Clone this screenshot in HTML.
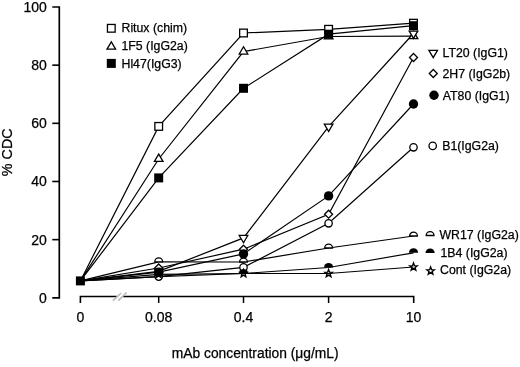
<!DOCTYPE html>
<html><head><meta charset="utf-8"><style>
html,body{margin:0;padding:0;background:#fff;}
body{width:520px;height:367px;overflow:hidden;font-family:"Liberation Sans",sans-serif;}
svg{display:block;filter:grayscale(1);}
</style></head><body>
<svg width="520" height="367" viewBox="0 0 520 367">
<rect width="520" height="367" fill="#fff"/>
<path d="M52.3,7 H59.3 V297.8 H52.3" fill="none" stroke="#000" stroke-width="1.7"/>
<line x1="52.3" y1="239.64" x2="59.3" y2="239.64" stroke="#000" stroke-width="1.6"/>
<line x1="52.3" y1="181.48" x2="59.3" y2="181.48" stroke="#000" stroke-width="1.6"/>
<line x1="52.3" y1="123.32" x2="59.3" y2="123.32" stroke="#000" stroke-width="1.6"/>
<line x1="52.3" y1="65.16" x2="59.3" y2="65.16" stroke="#000" stroke-width="1.6"/>
<path d="M80.4,303 V296.5 H116.8 M122.9,296.5 H413.7 V303" fill="none" stroke="#000" stroke-width="1.6"/>
<line x1="158.7" y1="296.5" x2="158.7" y2="303" stroke="#000" stroke-width="1.5"/>
<line x1="243.5" y1="296.5" x2="243.5" y2="303" stroke="#000" stroke-width="1.5"/>
<line x1="328.6" y1="296.5" x2="328.6" y2="303" stroke="#000" stroke-width="1.5"/>
<line x1="113" y1="300.6" x2="121.2" y2="293" stroke="#b8b8b8" stroke-width="1.5"/>
<line x1="118.3" y1="300.6" x2="126.6" y2="292.5" stroke="#b8b8b8" stroke-width="1.5"/>
<polyline points="80.4,280.9 158.7,126.4 243.5,33.0 328.6,29.3 413.5,23.2" fill="none" stroke="#000" stroke-width="1.2"/>
<polyline points="80.4,280.9 158.7,159.0 243.5,51.6 328.6,36.5 413.5,36.2" fill="none" stroke="#000" stroke-width="1.2"/>
<polyline points="80.4,280.9 158.7,177.9 243.5,88.3 328.6,34.2 413.5,25.7" fill="none" stroke="#000" stroke-width="1.2"/>
<polyline points="80.4,280.9 158.7,271.4 243.5,237.9 328.6,126.6 413.5,33.5" fill="none" stroke="#000" stroke-width="1.2"/>
<polyline points="80.4,280.9 158.7,268.0 243.5,249.2 328.6,214.2 413.5,57.5" fill="none" stroke="#000" stroke-width="1.2"/>
<polyline points="80.4,280.9 158.7,272.1 243.5,253.9 328.6,195.9 413.5,104.0" fill="none" stroke="#000" stroke-width="1.2"/>
<polyline points="80.4,280.9 158.7,276.6 243.5,267.4 328.6,223.3 413.5,147.3" fill="none" stroke="#000" stroke-width="1.2"/>
<polyline points="80.4,280.9 158.7,261.8 243.5,262.0 328.6,248.0 413.5,236.0" fill="none" stroke="#000" stroke-width="1.2"/>
<polyline points="80.4,280.9 158.7,276.6 243.5,273.5 328.6,267.5 413.5,252.8" fill="none" stroke="#000" stroke-width="1.2"/>
<polyline points="80.4,280.9 158.7,274.3 243.5,273.5 328.6,273.5 413.5,267.0" fill="none" stroke="#000" stroke-width="1.2"/>
<rect x="154.85" y="122.55" width="7.7" height="7.7" fill="#fff" stroke="#000" stroke-width="1.3"/>
<rect x="239.65" y="29.15" width="7.7" height="7.7" fill="#fff" stroke="#000" stroke-width="1.3"/>
<rect x="324.75" y="25.45" width="7.7" height="7.7" fill="#fff" stroke="#000" stroke-width="1.3"/>
<rect x="409.65" y="19.35" width="7.7" height="7.7" fill="#fff" stroke="#000" stroke-width="1.3"/>
<polygon points="158.70,154.13 154.40,161.43 163.00,161.43" fill="#fff" stroke="#000" stroke-width="1.3" stroke-linejoin="miter"/>
<polygon points="243.50,46.73 239.20,54.03 247.80,54.03" fill="#fff" stroke="#000" stroke-width="1.3" stroke-linejoin="miter"/>
<polygon points="328.60,31.63 324.30,38.93 332.90,38.93" fill="#fff" stroke="#000" stroke-width="1.3" stroke-linejoin="miter"/>
<polygon points="413.50,31.33 409.20,38.63 417.80,38.63" fill="#fff" stroke="#000" stroke-width="1.3" stroke-linejoin="miter"/>
<rect x="154.20" y="173.40" width="9" height="9" fill="#000"/>
<rect x="239.00" y="83.80" width="9" height="9" fill="#000"/>
<rect x="324.10" y="29.70" width="9" height="9" fill="#000"/>
<rect x="409.00" y="21.20" width="9" height="9" fill="#000"/>
<polygon points="158.70,276.27 154.40,268.97 163.00,268.97" fill="#fff" stroke="#000" stroke-width="1.3"/>
<polygon points="243.50,242.77 239.20,235.47 247.80,235.47" fill="#fff" stroke="#000" stroke-width="1.3"/>
<polygon points="328.60,131.47 324.30,124.17 332.90,124.17" fill="#fff" stroke="#000" stroke-width="1.3"/>
<polygon points="413.50,38.37 409.20,31.07 417.80,31.07" fill="#fff" stroke="#000" stroke-width="1.3"/>
<polygon points="158.70,264.00 162.70,268.00 158.70,272.00 154.70,268.00" fill="#fff" stroke="#000" stroke-width="1.3"/>
<polygon points="243.50,245.20 247.50,249.20 243.50,253.20 239.50,249.20" fill="#fff" stroke="#000" stroke-width="1.3"/>
<polygon points="328.60,210.20 332.60,214.20 328.60,218.20 324.60,214.20" fill="#fff" stroke="#000" stroke-width="1.3"/>
<polygon points="413.50,53.50 417.50,57.50 413.50,61.50 409.50,57.50" fill="#fff" stroke="#000" stroke-width="1.3"/>
<circle cx="158.70" cy="272.10" r="4.7" fill="#000"/>
<circle cx="243.50" cy="253.90" r="4.7" fill="#000"/>
<circle cx="328.60" cy="195.90" r="4.7" fill="#000"/>
<circle cx="413.50" cy="104.00" r="4.7" fill="#000"/>
<circle cx="158.70" cy="276.60" r="3.7" fill="#fff" stroke="#000" stroke-width="1.3"/>
<circle cx="243.50" cy="267.40" r="3.7" fill="#fff" stroke="#000" stroke-width="1.3"/>
<circle cx="328.60" cy="223.30" r="3.7" fill="#fff" stroke="#000" stroke-width="1.3"/>
<circle cx="413.50" cy="147.30" r="3.7" fill="#fff" stroke="#000" stroke-width="1.3"/>
<path d="M154.80,261.80 A3.9,3.9 0 0 1 162.60,261.80 Z" fill="#fff" stroke="#000" stroke-width="1.3"/>
<path d="M239.60,262.00 A3.9,3.9 0 0 1 247.40,262.00 Z" fill="#fff" stroke="#000" stroke-width="1.3"/>
<path d="M324.70,248.00 A3.9,3.9 0 0 1 332.50,248.00 Z" fill="#fff" stroke="#000" stroke-width="1.3"/>
<path d="M409.60,236.00 A3.9,3.9 0 0 1 417.40,236.00 Z" fill="#fff" stroke="#000" stroke-width="1.3"/>
<path d="M154.10,276.60 A4.6,4.6 0 0 1 163.30,276.60 Z" fill="#000"/>
<path d="M238.90,273.50 A4.6,4.6 0 0 1 248.10,273.50 Z" fill="#000"/>
<path d="M324.00,267.50 A4.6,4.6 0 0 1 333.20,267.50 Z" fill="#000"/>
<path d="M408.90,252.80 A4.6,4.6 0 0 1 418.10,252.80 Z" fill="#000"/>
<polygon points="158.70,270.40 159.67,272.97 162.41,273.09 160.27,274.81 160.99,277.46 158.70,275.95 156.41,277.46 157.13,274.81 154.99,273.09 157.73,272.97" fill="none" stroke="#000" stroke-width="1.4" stroke-linejoin="miter"/>
<polygon points="243.50,269.60 244.47,272.17 247.21,272.29 245.07,274.01 245.79,276.66 243.50,275.15 241.21,276.66 241.93,274.01 239.79,272.29 242.53,272.17" fill="none" stroke="#000" stroke-width="1.4" stroke-linejoin="miter"/>
<polygon points="328.60,269.60 329.57,272.17 332.31,272.29 330.17,274.01 330.89,276.66 328.60,275.15 326.31,276.66 327.03,274.01 324.89,272.29 327.63,272.17" fill="none" stroke="#000" stroke-width="1.4" stroke-linejoin="miter"/>
<polygon points="413.50,263.10 414.47,265.67 417.21,265.79 415.07,267.51 415.79,270.16 413.50,268.65 411.21,270.16 411.93,267.51 409.79,265.79 412.53,265.67" fill="none" stroke="#000" stroke-width="1.4" stroke-linejoin="miter"/>
<rect x="75.90" y="276.40" width="9" height="9" fill="#000"/>
<text x="46.8" y="302.80" font-family="Liberation Sans" stroke="#000" stroke-width="0.25" font-size="14" text-anchor="end">0</text>
<text x="46.8" y="244.64" font-family="Liberation Sans" stroke="#000" stroke-width="0.25" font-size="14" text-anchor="end">20</text>
<text x="46.8" y="186.48" font-family="Liberation Sans" stroke="#000" stroke-width="0.25" font-size="14" text-anchor="end">40</text>
<text x="46.8" y="128.32" font-family="Liberation Sans" stroke="#000" stroke-width="0.25" font-size="14" text-anchor="end">60</text>
<text x="46.8" y="70.16" font-family="Liberation Sans" stroke="#000" stroke-width="0.25" font-size="14" text-anchor="end">80</text>
<text x="46.8" y="12.00" font-family="Liberation Sans" stroke="#000" stroke-width="0.25" font-size="14" text-anchor="end">100</text>
<text x="80.4" y="322.0" font-family="Liberation Sans" stroke="#000" stroke-width="0.25" font-size="14" text-anchor="middle">0</text>
<text x="158.7" y="322.0" font-family="Liberation Sans" stroke="#000" stroke-width="0.25" font-size="14" text-anchor="middle">0.08</text>
<text x="243.5" y="322.0" font-family="Liberation Sans" stroke="#000" stroke-width="0.25" font-size="14" text-anchor="middle">0.4</text>
<text x="328.6" y="322.0" font-family="Liberation Sans" stroke="#000" stroke-width="0.25" font-size="14" text-anchor="middle">2</text>
<text x="413.5" y="322.0" font-family="Liberation Sans" stroke="#000" stroke-width="0.25" font-size="14" text-anchor="middle">10</text>
<text x="255.2" y="357.8" font-family="Liberation Sans" stroke="#000" stroke-width="0.25" font-size="13.8" text-anchor="middle">mAb concentration (μg/mL)</text>
<text transform="translate(12,152.3) rotate(-90)" x="0" y="0" font-family="Liberation Sans" stroke="#000" stroke-width="0.25" font-size="14.3" text-anchor="middle">% CDC</text>
<rect x="107.45" y="24.45" width="7.7" height="7.7" fill="#fff" stroke="#000" stroke-width="1.3"/>
<text x="121.5" y="31.7" font-family="Liberation Sans" stroke="#000" stroke-width="0.25" font-size="12.3">Ritux (chim)</text>
<polygon points="111.30,41.83 107.00,49.13 115.60,49.13" fill="#fff" stroke="#000" stroke-width="1.3" stroke-linejoin="miter"/>
<text x="121.5" y="50.0" font-family="Liberation Sans" stroke="#000" stroke-width="0.25" font-size="12.3">1F5 (IgG2a)</text>
<rect x="106.80" y="58.90" width="9" height="9" fill="#000"/>
<text x="121.5" y="67.7" font-family="Liberation Sans" stroke="#000" stroke-width="0.25" font-size="12.3">Hl47(IgG3)</text>
<polygon points="433.20,57.67 428.90,50.37 437.50,50.37" fill="#fff" stroke="#000" stroke-width="1.3"/>
<text x="442.5" y="57.4" font-family="Liberation Sans" stroke="#000" stroke-width="0.25" font-size="12.3">LT20 (IgG1)</text>
<polygon points="433.30,69.50 437.30,73.50 433.30,77.50 429.30,73.50" fill="#fff" stroke="#000" stroke-width="1.3"/>
<text x="442.5" y="77.6" font-family="Liberation Sans" stroke="#000" stroke-width="0.25" font-size="12.3">2H7 (IgG2b)</text>
<circle cx="434.00" cy="95.30" r="4.7" fill="#000"/>
<text x="442.8" y="99.6" font-family="Liberation Sans" stroke="#000" stroke-width="0.25" font-size="12.3">AT80 (IgG1)</text>
<circle cx="432.70" cy="145.90" r="3.7" fill="#fff" stroke="#000" stroke-width="1.3"/>
<text x="442.2" y="149.8" font-family="Liberation Sans" stroke="#000" stroke-width="0.25" font-size="12.3">B1(IgG2a)</text>
<path d="M426.20,235.50 A3.9,3.9 0 0 1 434.00,235.50 Z" fill="#fff" stroke="#000" stroke-width="1.3"/>
<text x="439.5" y="239.2" font-family="Liberation Sans" stroke="#000" stroke-width="0.25" font-size="12.3">WR17 (IgG2a)</text>
<path d="M425.50,253.00 A4.6,4.6 0 0 1 434.70,253.00 Z" fill="#000"/>
<text x="440.5" y="257.1" font-family="Liberation Sans" stroke="#000" stroke-width="0.25" font-size="12.3">1B4 (IgG2a)</text>
<polygon points="430.60,267.10 431.57,269.67 434.31,269.79 432.17,271.51 432.89,274.16 430.60,272.65 428.31,274.16 429.03,271.51 426.89,269.79 429.63,269.67" fill="none" stroke="#000" stroke-width="1.4" stroke-linejoin="miter"/>
<text x="440.0" y="274.0" font-family="Liberation Sans" stroke="#000" stroke-width="0.25" font-size="12.3">Cont (IgG2a)</text>
</svg>
</body></html>
